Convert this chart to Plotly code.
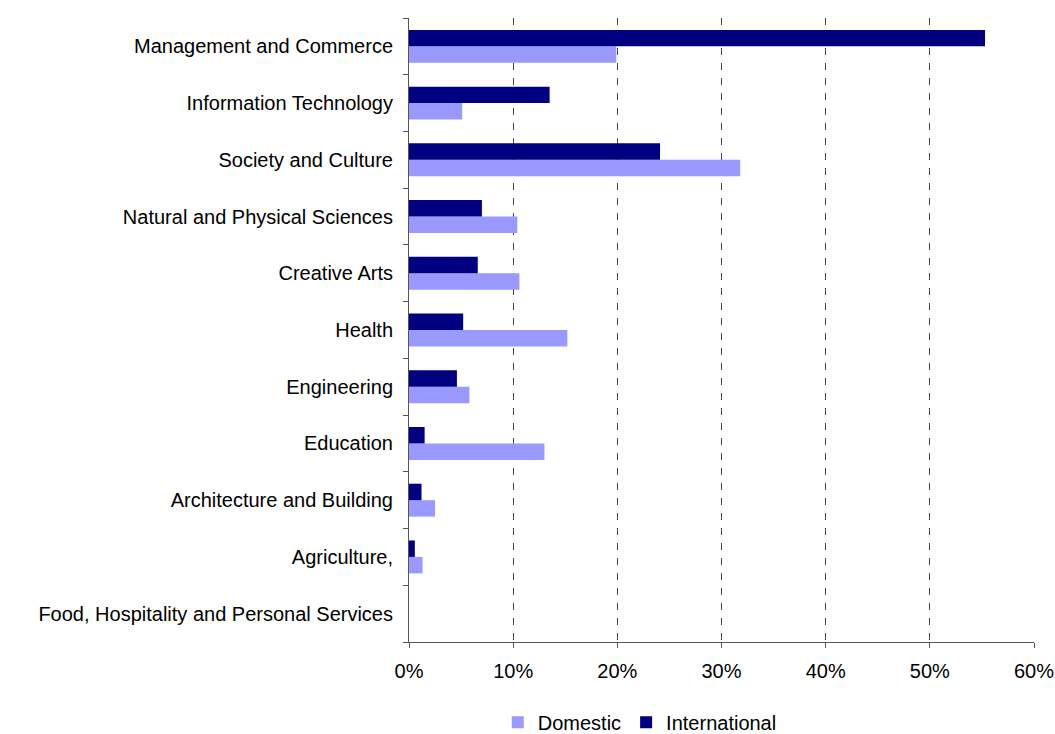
import plotly.graph_objects as go

# Fields of study, listed bottom to top as they appear on the axis
categories = [
    "Food, Hospitality and Personal Services",
    "Agriculture,",
    "Architecture and Building",
    "Education",
    "Engineering",
    "Health",
    "Creative Arts",
    "Natural and Physical Sciences",
    "Society and Culture",
    "Information Technology",
    "Management and Commerce",
]

# Share of students in each field (fraction)
domestic = [0.0, 0.013, 0.025, 0.130, 0.058, 0.152, 0.106, 0.104, 0.318, 0.051, 0.199]
international = [0.0, 0.0056, 0.012, 0.015, 0.046, 0.052, 0.066, 0.070, 0.241, 0.135, 0.553]

x_ticks = [0, 0.1, 0.2, 0.3, 0.4, 0.5, 0.6]
x_tick_labels = ["0%", "10%", "20%", "30%", "40%", "50%", "60%"]

fig = go.Figure()
fig.add_trace(go.Bar(
    name="Domestic", y=categories, x=domestic, orientation="h",
    marker=dict(color="#9999FF", line=dict(width=0)),
))
fig.add_trace(go.Bar(
    name="International", y=categories, x=international, orientation="h",
    marker=dict(color="#000080", line=dict(width=0)),
))

font = dict(family="Liberation Sans, Arial, sans-serif", size=20, color="#000000")

fig.update_layout(
    width=1055, height=734,
    margin=dict(l=409, r=21, t=18, b=92),
    paper_bgcolor="white", plot_bgcolor="white",
    barmode="group", bargap=0.42, bargroupgap=0,
    font=font,
    showlegend=True,
    legend=dict(
        orientation="h", x=0.142, xanchor="left",
        yref="container", y=0.016, yanchor="middle",
        font=font, itemwidth=30, tracegroupgap=0, borderwidth=0,
    ),
    xaxis=dict(
        range=[0, 0.6], tickvals=x_ticks, ticktext=x_tick_labels,
        showgrid=True, gridcolor="#444444", gridwidth=1, griddash="7px,8px",
        showline=True, linecolor="#555555", linewidth=1,
        ticks="outside", ticklen=5, tickcolor="#555555",
        ticklabelstandoff=6,
        zeroline=False, fixedrange=True, automargin=False,
    ),
    yaxis=dict(
        categoryorder="array", categoryarray=categories,
        showline=True, linecolor="#555555", linewidth=1,
        ticks="outside", ticklen=5, tickcolor="#555555", tickson="boundaries",
        ticklabelstandoff=11,
        showgrid=False, zeroline=False, fixedrange=True, automargin=False,
    ),
)

fig.write_html("out.html")
